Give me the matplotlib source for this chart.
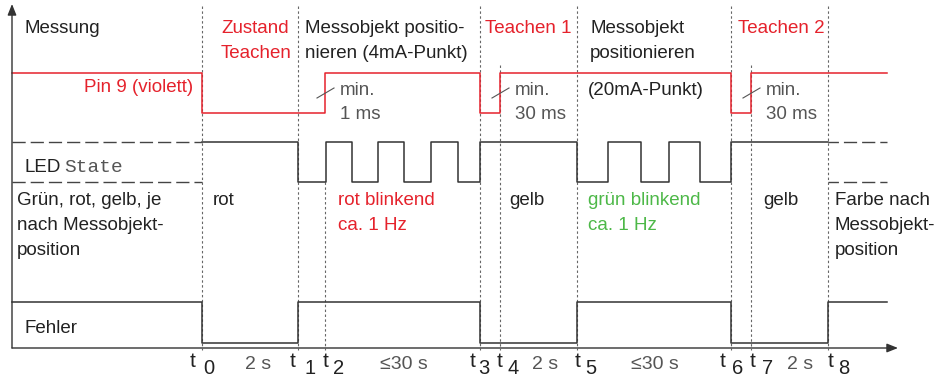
import matplotlib
matplotlib.use("Agg")
import matplotlib.pyplot as plt

plt.rcParams['font.family'] = ['Liberation Sans', 'DejaVu Sans']

RED = '#e5222c'
GREEN = '#4db848'
GRAY = '#555555'
BLACK = '#222222'

# time marks t0..t8 (horizontal position of each event)
t_marks = [202, 298, 325, 480, 500, 577, 731, 751, 828]
t_line_top = [6, 6, 182, 6, 65, 6, 6, 65, 6]
t_names = ['0', '1', '2', '3', '4', '5', '6', '7', '8']
t_left = [190, 290, 323, 470, 497, 575, 720, 750, 828]
t_sub_left = [203, 305, 333, 478, 507, 585, 732, 762, 838]

# signals: edges + levels (1 = high, 0 = low)
pin9_edges = [12, 202, 325, 480, 500, 731, 751, 887]
pin9_levels = [1, 0, 1, 0, 1, 0, 1]

led_edges = [202, 298, 326, 352, 378, 404, 431, 458, 480, 577, 608, 641, 669, 700, 731, 828]
led_levels = [1, 0, 1, 0, 1, 0, 1, 0, 1, 0, 1, 0, 1, 0, 1]

fehler_edges = [12, 202, 298, 480, 577, 731, 828, 887]
fehler_levels = [1, 0, 1, 0, 1, 0, 1]

# intervals below the axis
periods = ['2 s', '≤30 s', '2 s', '≤30 s', '2 s']
period_x = [258, 404, 545, 655, 800]

# rising edges with "min." annotations
min_edges = [325, 500, 751]
min_texts = ['min.\n1 ms', 'min.\n30 ms', 'min.\n30 ms']


def step_xy(edges, levels, y_hi, y_lo):
    xs, ys = [], []
    for i, lv in enumerate(levels):
        y = y_hi if lv else y_lo
        xs += [edges[i], edges[i + 1]]
        ys += [y, y]
    return xs, ys


fig = plt.figure(figsize=(9.36, 3.79), dpi=100)
ax = fig.add_axes([0, 0, 1, 1])
ax.set_xlim(0, 936)
ax.set_ylim(379, 0)
ax.axis('off')

# axes arrows
arr = dict(arrowstyle='-|>,head_length=0.55,head_width=0.22', mutation_scale=12,
           lw=1.0, color='#333333', shrinkA=0, shrinkB=0)
ax.annotate('', xy=(898, 348), xytext=(12, 348), arrowprops=arr)
ax.annotate('', xy=(12, 4), xytext=(12, 348), arrowprops=arr)

# dashed time lines
for m, top in zip(t_marks, t_line_top):
    ax.plot([m, m], [top, 350], color='#666666', lw=0.8, ls=(0, (2.2, 2.2)))

# signals
x, y = step_xy(pin9_edges, pin9_levels, 73, 113)
ax.plot(x, y, color=RED, lw=1.1)
x, y = step_xy(led_edges, led_levels, 142, 182)
ax.plot(x, y, color='#333333', lw=1.1)
for yy in (142, 182):
    ax.plot([12, 202], [yy, yy], color='#444444', lw=1.0, ls=(0, (9.5, 3.6)))
    ax.plot([828, 887], [yy, yy], color='#444444', lw=1.0, ls=(2, (9.5, 3.6)))
x, y = step_xy(fehler_edges, fehler_levels, 302, 343)
ax.plot(x, y, color='#333333', lw=1.1)

# "min." annotations
for e, txt in zip(min_edges, min_texts):
    ax.plot([e - 8, e + 9], [98, 88], color=GRAY, lw=0.8)
    a, b = txt.split('\n')
    ax.text(e + 15, 95, a, color=GRAY, fontsize=13.5, va='baseline')
    ax.text(e + 15, 119, b, color=GRAY, fontsize=13.5, va='baseline')

fs = 13.5


def lines(x0, y0, txt, color=BLACK, ha='left'):
    for i, s in enumerate(txt.split('\n')):
        ax.text(x0, y0 + 25 * i, s, color=color, fontsize=fs, va='baseline', ha=ha)


lines(25, 33, 'Messung')
lines(221, 33, 'Zustand\nTeachen', RED)
lines(305, 33, 'Messobjekt positio-\nnieren (4mA-Punkt)')
lines(485, 33, 'Teachen 1', RED)
lines(590, 33, 'Messobjekt\npositionieren')
lines(588, 95, '(20mA-Punkt)')
lines(738, 33, 'Teachen 2', RED)
lines(193, 92, 'Pin 9 (violett)', RED, ha='right')

ax.text(25, 172, 'LED', color=BLACK, fontsize=fs, va='baseline')
ax.text(64, 172, 'State', color=GRAY, fontsize=14, va='baseline', family='Liberation Mono')

lines(17, 205, 'Grün, rot, gelb, je\nnach Messobjekt-\nposition')
lines(213, 205, 'rot')
lines(338, 205, 'rot blinkend\nca. 1 Hz', RED)
lines(509, 205, 'gelb')
lines(588, 205, 'grün blinkend\nca. 1 Hz', GREEN)
lines(763, 205, 'gelb')
lines(835, 205, 'Farbe nach\nMessobjekt-\nposition')
lines(25, 333, 'Fehler')

# time labels
for tx, sx, n in zip(t_left, t_sub_left, t_names):
    ax.text(tx, 367, 't', color=BLACK, fontsize=15, va='baseline')
    ax.text(sx, 374, n, color=BLACK, fontsize=14.5, va='baseline')
for px, p in zip(period_x, periods):
    ax.text(px, 369, p, color=GRAY, fontsize=14, va='baseline', ha='center')

fig.savefig('out.png', dpi=100)
